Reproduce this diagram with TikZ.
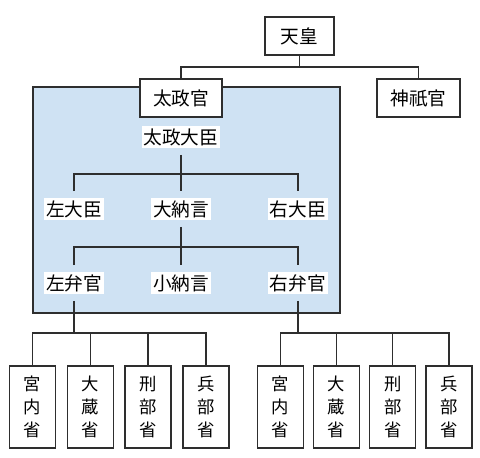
\documentclass[tikz,border=0pt]{standalone}
\usepackage{fontspec}
\newfontfamily\jp{Noto Sans CJK JP}
\usetikzlibrary{positioning}
\definecolor{bluebg}{HTML}{CFE2F3}
\definecolor{linegray}{HTML}{2E2E2E}
\tikzset{
  rect1/.style = {
    shape = rectangle,
    draw = linegray,
    fill = white,
    line width = 1.1pt,
    minimum height = 28.5pt,
    inner sep = 2pt,
    font = \jp\fontsize{14}{16}\selectfont,
  }
}
\tikzset{
  rect2/.style = {
    shape = rectangle,
    draw = linegray,
    fill = white,
    line width = 1.1pt,
    minimum width = 34.5pt,
    minimum height = 61.5pt,
    inner sep = 1pt,
    align = center,
    font = \jp\fontsize{13}{17.25}\selectfont,
  }
}
\tikzset{
  text1/.style = {
    fill = white,
    inner sep = 1.5pt,
    outer sep = 5.5pt,
    font = \jp\fontsize{14}{16}\selectfont,
  }
}
\tikzset{
  line1/.style = {
    draw = linegray, line width = 1.1pt,
  }
}

\begin{document}
\begin{tikzpicture}[x = 0.75pt, y = -0.75pt]
            \useasboundingbox (0,0) rectangle (480,458);
            \draw[line1, fill = bluebg](33,87) rectangle (340,313);
            \node[rect1, minimum width = 51.75pt](1) at (299.5,36){天皇};
            \node[rect1, minimum width = 61.5pt](2) at (181,98){太政官};
            \node[rect1, minimum width = 62pt](3) at (418.5,98){神祇官};
            \node[text1](4) at (181,137){太政大臣};
            \node[text1](5) at (74,209){左大臣};
            \node[text1](6) at (181,209){大納言};
            \node[text1](7) at (298,209){右大臣};
            \node[text1](8) at (74,283){左弁官};
            \node[text1](9) at (181,283){小納言};
            \node[text1](10) at (298,283){右弁官};
            \node[rect2](11) at (32.5,407){宮\\内\\省};
            \node[rect2, right=7.8pt of 11](12){大\\蔵\\省};
            \node[rect2, right=7.8pt of 12](13){刑\\部\\省};
            \node[rect2, right=7.8pt of 13](14){兵\\部\\省};
            \node[rect2](15) at (280.5,407){宮\\内\\省};
            \node[rect2, right=6.5pt of 15](16){大\\蔵\\省};
            \node[rect2, right=6.5pt of 16](17){刑\\部\\省};
            \node[rect2, right=6.5pt of 17](18){兵\\部\\省};
            \coordinate(a) at (299.5,67);
            \coordinate(b) at (181,174);
            \coordinate(c) at (181,247);
            \coordinate(d) at (74,333);
            \coordinate(e) at (298,333);
            \draw[line1](1) -- (a);
            \draw[line1](a) -| (2);
            \draw[line1](a) -| (3);
            \draw[line1](4) -- (6);
            \draw[line1](5) |- (b) -| (7);
            \draw[line1](6) -- (9);
            \draw[line1](8) |- (c) -| (10);
            \draw[line1](8) -- (d);
            \draw[line1](10) -- (e);
            \foreach \i in {11,12,13,14}
                \draw[line1](d) -| (\i);
            \foreach \i in {15,16,17,18}
                \draw[line1](e) -| (\i);
        \end{tikzpicture}
\end{document}
